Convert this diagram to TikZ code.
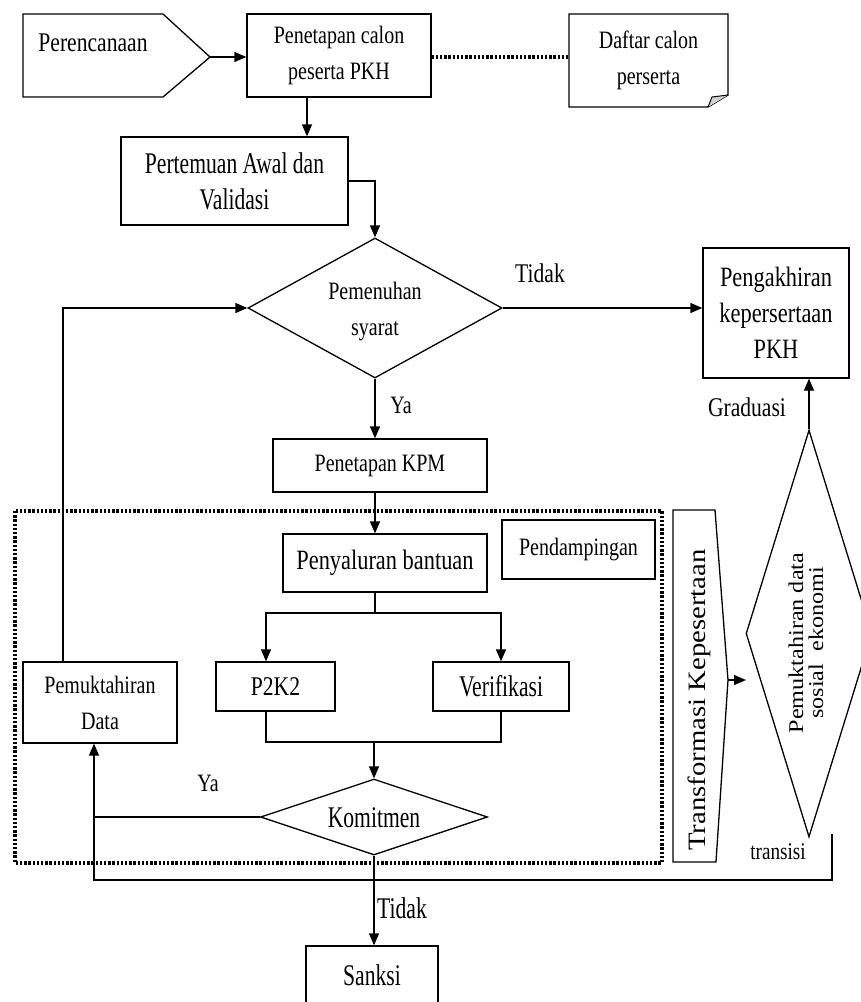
\documentclass[tikz,border=0pt]{standalone}
\usepackage{fontspec}
\setmainfont[FakeStretch=0.8]{Liberation Serif}
\newfontfamily\narrowfont[FakeStretch=0.72]{Liberation Serif}
\newfontfamily\rotfont[FakeStretch=1.15]{Liberation Serif}
\usetikzlibrary{arrows.meta,shapes.geometric,calc}
\begin{document}
\begin{tikzpicture}[x=1pt,y=-1pt,
  line width=1.3pt,
  arr/.style={-{Triangle[length=12pt,width=10pt]}},
  box/.style={draw, rectangle, inner sep=0pt, align=center},
  dia/.style={draw, diamond, inner sep=0pt},
  lbl/.style={inner sep=0pt, align=center},
  fs/.style={font=\fontsize{#1}{36}\selectfont},
  fn/.style={font=\narrowfont\fontsize{#1}{36}\selectfont},
  dotline/.style={line width=3.2pt, line cap=butt, dash pattern=on 2.4pt off 1.8pt},
]
\useasboundingbox (0,0) rectangle (861,1002);
\clip (0,0) rectangle (861,1002);

% helper x positions
\coordinate (c1) at (307,0);
\coordinate (c2) at (375,0);
\coordinate (c3) at (266,0);
\coordinate (c4) at (94,0);
\coordinate (c5) at (63,0);

% Perencanaan (pentagon arrow)
\draw (23,14) -- (163,14) -- (210,57) -- (163,97) -- (23,97) -- cycle;
\coordinate (pertip) at (210,57);
\node[lbl, fs=27] (perT) at (93,43) {Perencanaan};

% boxes
\node[box, fs=25, minimum width=184pt, minimum height=83pt] (pen) at (339,55.5) {Penetapan calon\\peserta PKH};
\node[box, fn=30, minimum width=227pt, minimum height=88pt] (pert) at (234.5,181) {Pertemuan Awal dan\\Validasi};
\node[box, fs=28, minimum width=146pt, minimum height=130pt] (peng) at (776,313) {Pengakhiran\\kepersertaan\\PKH};
\node[box, fs=25, minimum width=214pt, minimum height=53pt] (kpm) at (380,465.5) {Penetapan KPM};
\node[box, fs=28, minimum width=204pt, minimum height=58pt] (pen2) at (385,563) {Penyaluran bantuan};
\node[box, fs=25, minimum width=153pt, minimum height=59pt] (pend) at (578.5,549.5) {Pendampingan};
\node[box, fs=27, minimum width=119pt, minimum height=49pt] (p2k2) at (275.5,686.5) {P2K2};
\node[box, fn=30, minimum width=136pt, minimum height=49pt] (ver) at (501,686.5) {Verifikasi};
\node[box, fs=25, minimum width=154pt, minimum height=81pt] (pdata) at (100,702.5) {Pemuktahiran\\Data};
\node[box, fn=30, minimum width=132pt, minimum height=58pt] (sanksi) at (372,975) {Sanksi};

% Daftar calon perserta (document with folded corner)
\draw (569,14) -- (728,14) -- (728,95) -- (708,107) -- (569,107) -- cycle;
\draw[fill=gray!35, line width=1pt] (708,107) -- (712,97) -- (728,95);
\node[lbl, fs=25, minimum width=159pt, minimum height=93pt] (daf) at (648.5,60.5) {Daftar calon\\perserta};

% diamonds
\node[dia, minimum width=254pt, minimum height=140pt] (pem) at (375,308) {};
\node[lbl, fs=25] (pemT) at (375,312) {Pemenuhan\\syarat};
\node[dia, minimum width=227pt, minimum height=76pt] (kom) at (374,817) {};
\node[lbl, fn=30] (komT) at (374,818) {Komitmen};
\node[dia, minimum width=126pt, minimum height=407pt] (rdia) at (809,633.5) {};
\node[lbl, rotate=90, font=\rotfont\fontsize{21}{20}\selectfont] (rdiaT) at (806,643) {Pemuktahiran data\\sosial\ \ ekonomi};

% Transformasi Kepesertaan shape
\draw (673,510) -- (715,510) -- (728,680) -- (716,862) -- (673,862) -- cycle;
\coordinate (trtip) at (728,680);
\coordinate (trend) at (746,680);
\node[lbl, rotate=90, font=\rotfont\fontsize{25}{30}\selectfont] (trT) at (699,700) {Transformasi Kepesertaan};

% dotted frame
\draw[dotline] (15,511) rectangle (662,863);

% labels
\node[lbl, fs=27] (tidak1) at (540,273) {Tidak};
\node[lbl, fs=25] (ya1) at (401,405) {Ya};
\node[lbl, fs=27] (grad) at (747,407) {Graduasi};
\node[lbl, fs=25] (ya2) at (208,783) {Ya};
\node[lbl, fn=30] (tidak2) at (402,908) {Tidak};
\node[lbl, fs=24] (trans) at (778,852) {transisi};

% connectors
\draw[arr] (pertip) -- (pertip -| pen.west);
\draw[dotline] (pen.east |- pertip) -- (pertip -| daf.west);
\draw[arr] (pen.south -| c1) -- (pert.north -| c1);
\draw[arr] (pert.east) -| (pem.north);
\draw[arr] (pem.east) -- (pem.east -| peng.west);
\draw[arr] (pem.south) -- (kpm.north -| pem.south);
\draw[arr] (kpm.south -| c2) -- (pen2.north -| c2);
\coordinate (br) at (375,613);
\draw (pen2.south -| br) -- (br);
\draw[arr] (br) -| (p2k2.north -| c3);
\draw[arr] (br) -| (ver.north);
\coordinate (mg) at (374,742);
\draw (p2k2.south -| c3) |- (mg);
\draw (ver.south) |- (mg);
\draw[arr] (mg) -- (kom.north);
\draw[arr] (kom.west) -| (pdata.south -| c4);
\draw[arr] (kom.south) -- (sanksi.north -| kom.south);
\draw[arr] (pdata.north -| c5) |- (pem.west);
\draw[arr] (trtip) -- (trend);
\draw[arr] (rdia.north) -- (rdia.north |- peng.south);
\coordinate (trs) at (832,834);
\coordinate (bl) at (94,880);
\draw (trs) |- (bl) -- (bl |- kom.west);
\end{tikzpicture}
\end{document}
